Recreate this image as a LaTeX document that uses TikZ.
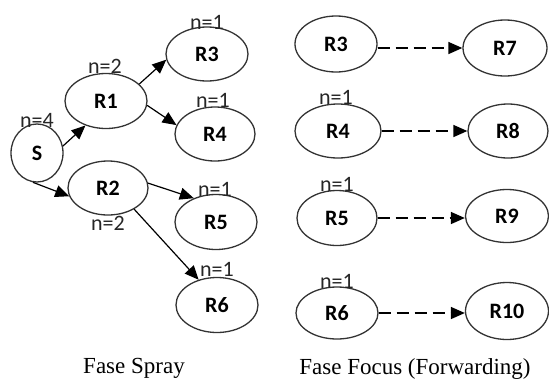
\documentclass[tikz,border=0pt]{standalone}
\usepackage{fontspec}
\setmainfont{Liberation Serif}
\newfontfamily\carl{Carlito}
\usetikzlibrary{shapes.geometric,arrows.meta}
\tikzset{
  host/.style={ellipse,draw=black!80,line width=1.3pt,inner sep=0pt,
    minimum width=82pt,minimum height=55pt,font=\carl\bfseries\fontsize{22}{24}\selectfont},
  lbl/.style={font=\carl\fontsize{22}{24}\selectfont,inner sep=0pt,text=black!85},
  captext/.style={font=\fontsize{23}{26}\selectfont,anchor=base,inner sep=0pt},
  spray/.style={draw=black,line width=1.2pt,-{Triangle[length=14pt,width=12pt]}},
  focus/.style={draw=black,line width=1.5pt,dash pattern=on 12pt off 6pt,-{Triangle[length=14pt,width=12pt]}}
}
\begin{document}
\begin{tikzpicture}[x=1pt,y=-1pt]
\useasboundingbox (0,0) rectangle (549,381);
% spray phase
\node[host,minimum width=52pt,minimum height=58pt] (S) at (37,153) {S};
\node[host] (R1) at (106,101) {R1};
\node[host,minimum height=54pt] (R3) at (207,54) {R3};
\node[host,minimum width=80pt,minimum height=54pt] (R4) at (215,134) {R4};
\node[host,minimum width=80pt,minimum height=54pt] (R2) at (108,188) {R2};
\node[host] (R5) at (216,222) {R5};
\node[host] (R6) at (217,305) {R6};
\node[lbl] (n4) at (37,120) {n=4};
\node[lbl] (n2a) at (105,66) {n=2};
\node[lbl] (n1a) at (207,22) {n=1};
\node[lbl] (n1b) at (213,100) {n=1};
\node[lbl] (n2b) at (108,223) {n=2};
\node[lbl] (n1c) at (215,189) {n=1};
\node[lbl] (n1d) at (217,269) {n=1};
\draw[spray] (S.15) -- (R1.230);
\draw[spray] (S.262) -- (R2.192);
\draw[spray] (R1.27) -- (R3.188);
\draw[spray] (R1.-6) -- (R4.167);
\draw[spray] (R2.7) -- (R5.133);
\draw[spray] (R2.-39) -- (R6.126);
% focus phase
\node[host,minimum height=56pt] (f3) at (336,44) {R3};
\node[host,minimum width=84pt,minimum height=56pt] (R7) at (505,48) {R7};
\node[host,minimum width=86pt,minimum height=54pt] (f4) at (338,131) {R4};
\node[host,minimum width=80pt,minimum height=54pt] (R8) at (508,131) {R8};
\node[host,minimum width=80pt] (f5) at (337,218) {R5};
\node[host,minimum width=83pt,minimum height=53pt] (R9) at (507,216) {R9};
\node[host,minimum height=52pt] (f6) at (337,313) {R6};
\node[host,minimum width=83pt,minimum height=57pt] (R10) at (507,311) {R10};
\node[lbl] (n1e) at (336,97) {n=1};
\node[lbl] (n1f) at (337,184) {n=1};
\node[lbl] (n1g) at (337,281) {n=1};
\draw[focus] (f3.east |- R7.west) -- (R7.west);
\draw[focus] (f4.east) -- (R8.west);
\draw[focus] (f5.east) -- (f5.east -| R9.west);
\draw[focus] (f6.east) -- (f6.east -| R10.west);
% captions
\node[captext] (c1) at (134,373) {Fase Spray};
\node[captext] (c2) at (415,374) {Fase Focus (Forwarding)};
\end{tikzpicture}
\end{document}
